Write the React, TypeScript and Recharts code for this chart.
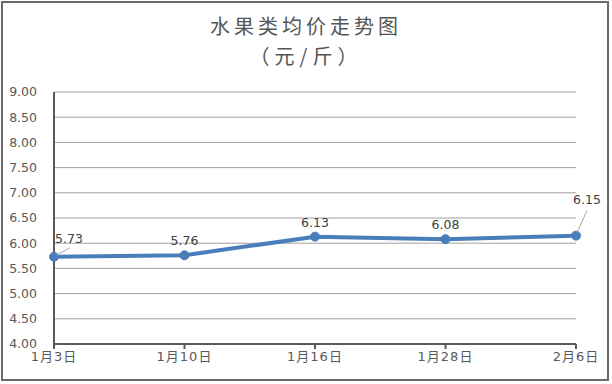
import { LineChart, Line, XAxis, YAxis, CartesianGrid } from "recharts";

const dates = ["1月3日", "1月10日", "1月16日", "1月28日", "2月6日"];
const prices = [5.73, 5.76, 6.13, 6.08, 6.15];
const yTicks = [4, 4.5, 5, 5.5, 6, 6.5, 7, 7.5, 8, 8.5, 9];

const data = dates.map((d, i) => ({ date: d, price: prices[i] }));

const FONT = "'DejaVu Sans', 'Noto Sans CJK SC', sans-serif";

const renderLabel = (props: any) => {
    const { x, y, value, index } = props;
    const text = Number(value).toFixed(2);
    if (index === 0) {
        return (
            <g>
                <line x1={x + 3} y1={y - 2} x2={x + 16} y2={y - 9} stroke="#a6a6a6" strokeWidth={1} />
                <text x={x + 1} y={y - 14} fontSize={12.5} fill="#404040" fontFamily={FONT}>{text}</text>
            </g>
        );
    }
    if (index === dates.length - 1) {
        return (
            <g>
                <line x1={x + 1} y1={y - 3} x2={x + 11} y2={y - 25} stroke="#a6a6a6" strokeWidth={1} />
                <text x={x + 11} y={y - 32} fontSize={12.5} fill="#404040" fontFamily={FONT} textAnchor="middle">{text}</text>
            </g>
        );
    }
    return (
        <text x={x} y={y - 10} fontSize={12.5} fill="#404040" fontFamily={FONT} textAnchor="middle">{text}</text>
    );
};

const titleStyle = {
    position: "absolute" as const, left: 0, width: 612, textAlign: "center" as const,
    fontFamily: "'Noto Sans CJK SC', sans-serif", fontSize: 20,
    color: "#555555", lineHeight: "22px", height: 22,
};

export default function App() {
    return (
        <div style={{ position: "fixed", left: 0, top: 0, width: 612, height: 384, background: "#fff" }}>
            <div
                style={{
                    position: "absolute", left: 1, top: 1, width: 604, height: 376,
                    border: "2px solid #6a6a6a",
                }}
            />
            <div style={{ ...titleStyle, top: 15, letterSpacing: 4 }}>水果类均价走势图</div>
            <div style={{ ...titleStyle, top: 45, letterSpacing: 5 }}>（元/斤）</div>
            <div style={{ position: "absolute", left: 0, top: 0 }}>
                <LineChart width={612} height={384} data={data} margin={{ top: 92, right: 36, left: 0, bottom: 10 }}>
                    <CartesianGrid vertical={false} stroke="#a0a0a0" strokeWidth={1} />
                    <XAxis
                        dataKey="date"
                        height={30}
                        stroke="#595959"
                        strokeWidth={2}
                        tickSize={5}
                        tick={{ fill: "#595959", fontSize: 13, fontFamily: FONT, letterSpacing: 1 }}
                        tickMargin={3}
                        interval={0}
                    />
                    <YAxis
                        width={54}
                        domain={[4, 9]}
                        ticks={yTicks}
                        stroke="#595959"
                        strokeWidth={2}
                        tickLine={false}
                        tickMargin={11}
                        tick={{ fill: "#595959", fontSize: 12.5, fontFamily: FONT }}
                        tickFormatter={(v) => Number(v).toFixed(2)}
                    />
                    <Line
                        type="linear"
                        dataKey="price"
                        stroke="#4a7ebb"
                        strokeWidth={4}
                        dot={{ r: 4.5, fill: "#4a7ebb", stroke: "#4a7ebb", strokeWidth: 1 }}
                        label={renderLabel}
                        isAnimationActive={false}
                    />
                </LineChart>
            </div>
        </div>
    );
}
